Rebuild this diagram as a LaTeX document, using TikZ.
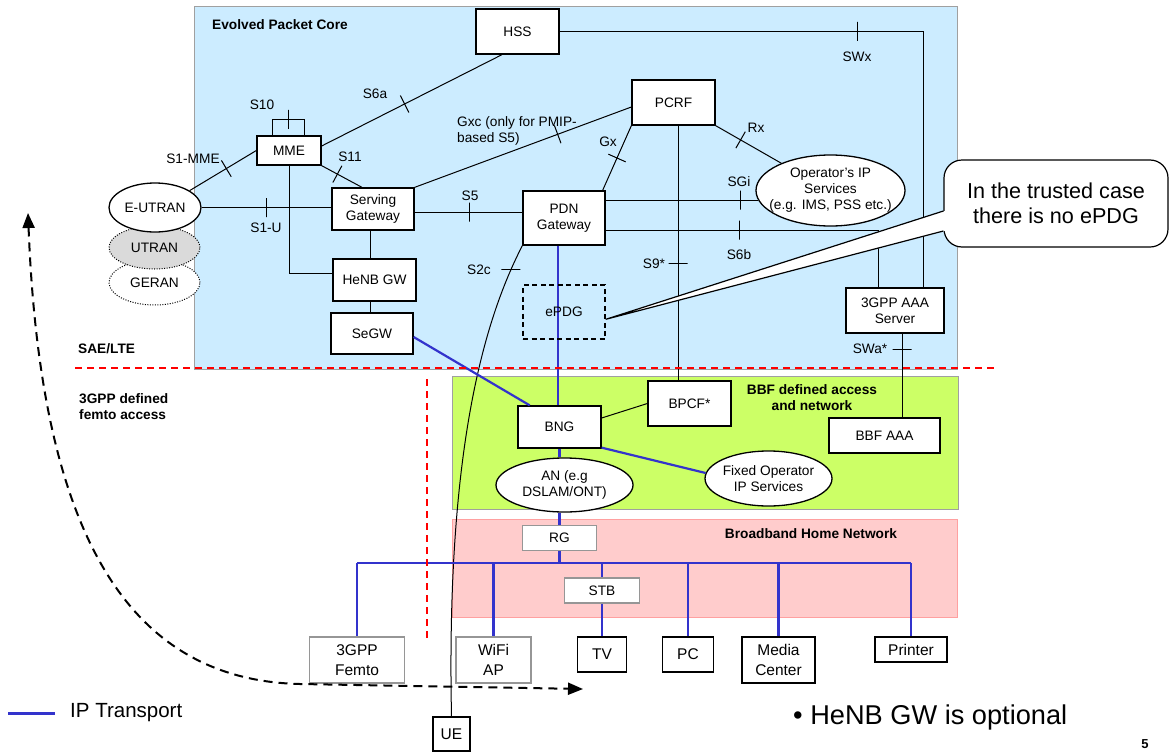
\documentclass[tikz,border=0pt]{standalone}
\usepackage{fontspec}
\setmainfont{Liberation Sans}
\usetikzlibrary{shapes.geometric,calc,arrows.meta}
\definecolor{epcblue}{RGB}{204,236,255}
\definecolor{bbfgreen}{RGB}{204,255,102}
\definecolor{homepink}{RGB}{255,204,204}
\definecolor{homeedge}{RGB}{255,160,160}
\definecolor{iplink}{RGB}{51,51,204}
\definecolor{areaedge}{RGB}{160,160,160}
\definecolor{boxgray}{RGB}{150,150,150}
\definecolor{utrangray}{RGB}{218,218,218}
\begin{document}
\begin{tikzpicture}[x=1pt,y=-1pt,
  base/.style={inner sep=0pt, align=center, font=\fontsize{13.7}{16}\selectfont},
  box/.style={base, draw, fill=white, line width=1.3pt},
  gbox/.style={box, draw=boxgray},
  bigbox/.style={box, font=\fontsize{15.5}{20}\selectfont},
  gbigbox/.style={bigbox, draw=boxgray},
  oval/.style={ellipse, draw, fill=white, line width=1.3pt, inner sep=0pt},
  dotoval/.style={oval, line width=1pt, dash pattern=on 1pt off 1.5pt},
  area/.style={base, font=\fontsize{13.7}{16}\selectfont\bfseries},
  link/.style={line width=1pt},
  ip/.style={line width=2.2pt, iplink},
  itick/.style={draw, line width=1pt, sloped, minimum width=0pt, minimum height=19pt, inner sep=0pt, outer sep=0pt},
  hbar/.style={draw, line width=1pt, minimum width=19pt, minimum height=0pt, inner sep=0pt, outer sep=0pt},
  reddash/.style={red, line width=1.5pt, dash pattern=on 7pt off 5pt},
]
\useasboundingbox (0,0) rectangle (1169,752);

% ---- domain backgrounds
\draw[fill=epcblue, draw=areaedge, line width=1pt] (194,7) rectangle (957,369);
\draw[fill=bbfgreen, draw=areaedge, line width=1pt] (452,376) rectangle (958,509);
\draw[fill=homepink, draw=homeedge, line width=1pt] (452,519) rectangle (957,617);

\node[area, anchor=west] (epclbl) at (212,25) {Evolved Packet Core};
\node[area, anchor=west] (saelbl) at (78,349) {SAE/LTE};
\node[area, anchor=west, align=left] (femtolbl) at (79,407) {3GPP defined\\femto access};
\node[area] (bbflbl) at (812,398) {BBF defined access\\and network};
\node[area] (bhnlbl) at (811,534) {Broadband Home Network};

% ---- radio access ellipses
\node[dotoval, minimum width=91pt, minimum height=45pt] (geran) at (154.5,282.5) {};
\node[dotoval, fill=utrangray, minimum width=91pt, minimum height=43pt] (utran) at (154.5,247.5) {};
\node[oval, minimum width=92pt, minimum height=49pt] (eutran) at (155,207.5) {};
\node[base] (gerantxt) at (geran) {GERAN};
\node[base] (utrantxt) at (utran) {UTRAN};
\node[base] (eutrantxt) at (eutran) {E-UTRAN};

% ---- core nodes
\node[box, minimum width=83pt, minimum height=45pt] (hss) at (517.5,31.5) {HSS};
\node[box, minimum width=64pt, minimum height=29pt] (mme) at (289,150.5) {MME};
\node[box, minimum width=82pt, minimum height=42pt] (sgw) at (373,209) {Serving\\Gateway};
\node[box, minimum width=82pt, minimum height=54pt] (pdn) at (564,218) {PDN\\Gateway};
\node[box, minimum width=83pt, minimum height=45pt] (pcrf) at (673.5,102.5) {PCRF};
\node[box, minimum width=98pt, minimum height=45pt] (aaa3gpp) at (895,310.5) {3GPP AAA\\Server};
\node[box, minimum width=83pt, minimum height=42pt] (henb) at (374.5,280) {HeNB GW};
\node[box, minimum width=82pt, minimum height=41pt] (segw) at (372,333.5) {SeGW};
\node[oval, minimum width=149pt, minimum height=71pt] (opip) at (830.5,190.5) {};

% ---- BBF access nodes
\node[box, minimum width=83pt, minimum height=42pt] (bng) at (559.5,427) {BNG};
\node[box, minimum width=83pt, minimum height=45pt] (bpcf) at (689.5,403.5) {BPCF*};
\node[box, minimum width=111pt, minimum height=35pt] (bbfaaa) at (884.5,435.5) {BBF AAA};
\node[oval, minimum width=127pt, minimum height=55pt] (fixop) at (768.5,478.5) {};
\node[oval, minimum width=137pt, minimum height=54pt] (an) at (564.5,485) {};

% ---- home network nodes
\node[gbox, minimum width=74pt, minimum height=25pt] (rg) at (559.5,538) {RG};
\node[gbox, minimum width=75pt, minimum height=25pt] (stb) at (602,590.5) {STB};
\node[gbigbox, minimum width=95pt, minimum height=46pt] (femto) at (357,660) {3GPP\\Femto};
\node[gbigbox, minimum width=75pt, minimum height=46pt] (wifi) at (493.5,660) {WiFi\\AP};
\node[bigbox, minimum width=49pt, minimum height=35pt] (tv) at (602,654.5) {TV};
\node[bigbox, minimum width=51pt, minimum height=35pt] (pc) at (688,654.5) {PC};
\node[bigbox, minimum width=73pt, minimum height=46pt] (media) at (778.5,660) {Media\\Center};
\node[bigbox, minimum width=72pt, minimum height=25pt] (printer) at (911,649.5) {Printer};
\node[bigbox, minimum width=37pt, minimum height=34pt] (ue) at (451.5,734) {UE};

% ---- reference points (black)
\draw[link] (eutran.26) -- node[itick, pos=0.55] (tk1) {} (mme.west);
\node[base] (l_s1mme) at (193,159) {S1-MME};
\draw[link] (eutran.east) -- node[itick, pos=0.5] (tk2) {} (eutran.east -| sgw.west);
\node[base] (l_s1u) at (266,228) {S1-U};
\draw[link] ($(mme.north west)+(16,0)$) -- ++(0,-16) -- node[itick, midway] (tk3) {} ++(32,0) -- ++(0,16);
\node[base] (l_s10) at (262,105) {S10};
\draw[link] ($(mme.east)+(0,-4.5)$) -- node[itick, pos=0.46] (tk4) {} ($(hss.south)+(-15.5,0)$);
\node[base] (l_s6a) at (375,94) {S6a};
\draw[link] (mme.south east) -- node[itick, pos=0.39] (tk5) {} ($(sgw.north)+(-11,0)$);
\node[base] (l_s11) at (350,157) {S11};
\coordinate (henbw) at ($(henb.west)+(0,-7)$);
\draw[link] (mme.south) -- (mme.south |- henbw) -- (henbw);
\coordinate (sgwdrop) at ($(sgw.south)+(-3,0)$);
\draw[link] (sgwdrop) -- (sgwdrop |- henb.north);
\draw[link] (sgwdrop |- henb.south) -- (sgwdrop |- segw.north);
\coordinate (s5s) at ($(sgw.east)+(0,3)$);
\draw[link] (s5s) -- node[itick, pos=0.51] (tk6) {} (s5s -| pdn.west);
\node[base] (l_s5) at (470,196) {S5};
\draw[link] (sgw.north east) -- node[itick, pos=0.66] (tk7) {} ($(pcrf.west)+(0,4.5)$);
\node[base, anchor=west, align=left] (l_gxc) at (457,131) {Gxc (only for PMIP-\\based S5)};
\draw[link] (pcrf.south west) -- node[itick, pos=0.5] (tk8) {} ($(pdn.north east)+(-3,0)$);
\node[base] (l_gx) at (608,142) {Gx};
\draw[link] (pcrf.south east) -- node[itick, pos=0.38] (tk9) {} (opip.151);
\node[base] (l_rx) at (756,128) {Rx};
\coordinate (sgis) at ($(pdn.east)+(0,-18)$);
\draw[link] (sgis) -- node[itick, pos=0.88] (tk10) {} ($(sgis -| opip.west)+(3,0)$);
\node[base] (l_sgi) at (739,182) {SGi};
\coordinate (s6bs) at ($(pdn.east)+(0,12)$);
\coordinate (s6bc) at ($(aaa3gpp.north)+(-17,0)$);
\draw[link] (s6bs) -- node[itick, pos=0.49] (tk11) {} (s6bs -| s6bc) -- (s6bc);
\node[base] (l_s6b) at (739,255) {S6b};
\coordinate (swxc) at ($(aaa3gpp.north)+(28,0)$);
\draw[link] (hss.east) -- node[itick, pos=0.82] (tk12) {} (hss.east -| swxc) -- (swxc);
\node[base] (l_swx) at (857,57) {SWx};
\coordinate (s9s) at ($(pcrf.south)+(4.5,0)$);
\draw[link] (s9s) -- node[itick, pos=0.54] (tk13) {} (s9s |- bpcf.north);
\node[base] (l_s9) at (654,264) {S9*};
\coordinate (swas) at ($(aaa3gpp.south)+(7,0)$);
\draw[link] (swas) -- node[itick, pos=0.19] (tk14) {} (swas |- bbfaaa.north);
\node[base] (l_swa) at (870,349) {SWa*};
\draw[link] ($(bng.east)+(0,-9)$) -- (bpcf.west);
\draw[link] ($(bng.east)+(0,11)$) -- ($(bng.east)+(0,11)$ -| bbfaaa.west);
\draw[link] (pdn.south west) .. controls (484,320) and (446,450) .. node[hbar, pos=0.1] (tk15) {} (ue.north);
\node[base] (l_s2c) at (479,270) {S2c};

% ---- IP transport (blue)
\draw[ip] ($(segw.east)+(0,3.5)$) -- (bng.144);
\coordinate (pdnip) at ($(pdn.south)+(-6,0)$);
\draw[ip] (pdnip) -- (pdnip |- bng.north);
\draw[ip] (bng.south) -- (bng.south |- an.north);
\draw[ip] ($(bng.south east)+(0,-1)$) -- (fixop.175);
\draw[ip] (bng.south |- an.south) -- (rg.north);
\coordinate (bus) at (559.5,563);
\draw[ip] (rg.south) -- (bus);
\draw[ip] (femto.north |- bus) -- (printer.north |- bus);
\draw[ip] (femto.north |- bus) -- (femto.north);
\draw[ip] (wifi.north |- bus) -- (wifi.north);
\draw[ip] (stb.north |- bus) -- (stb.north);
\draw[ip] (stb.south) -- (tv.north);
\draw[ip] (pc.north |- bus) -- (pc.north);
\draw[ip] (media.north |- bus) -- (media.north);
\draw[ip] (printer.north |- bus) -- (printer.north);

% ---- ePDG (optional) and oval texts
\node[base, draw, line width=1.3pt, dash pattern=on 5pt off 3.5pt, minimum width=82pt, minimum height=54pt] (epdg) at (564,312) {ePDG};
\node[base] (opiptxt) at (opip) {Operator's IP\\Services\\(e.g. IMS, PSS etc.)};
\node[base] (fixoptxt) at (fixop) {Fixed Operator\\IP Services};
\node[base] (antxt) at (an) {AN (e.g\\DSLAM/ONT)};

% ---- domain borders (red dashed)
\coordinate (rh1) at (75,368);
\coordinate (rh2) at (998,368);
\coordinate (rv1) at (427,379);
\coordinate (rv2) at (427,640);
\draw[reddash] (rh1) -- (rh2);
\draw[reddash] (rv1) -- (rv2);

% ---- mobility arrow
\coordinate (mobtop) at (28,213);
\coordinate (mobend) at (583,689);
\draw[line width=2pt, dash pattern=on 9pt off 6pt, {Triangle[length=15pt,width=12pt]}-{Triangle[length=15pt,width=12pt]}]
  (mobtop) .. controls (40,520) and (120,680) .. (300,684) -- (mobend);

% ---- callout
\node[draw, fill=white, rounded corners=18pt, line width=1.2pt, minimum width=224pt, minimum height=87pt,
      inner sep=0pt, align=center, font=\fontsize{21.6}{25}\selectfont] (note) at (1056,203.5)
      {In the trusted case\\there is no ePDG};
\fill[white] ($(note.west)+(1.5,7.5)$) -- (epdg.-10) -- ($(note.west)+(1.5,27.5)$) -- cycle;
\draw[line width=1.2pt] ($(note.west)+(0,7.5)$) -- (epdg.-10) -- ($(note.west)+(0,27.5)$);

% ---- legend and footnotes
\coordinate (legA) at (8,713);
\coordinate (legB) at (55,713);
\draw[iplink, line width=3pt] (legA) -- (legB);
\node[anchor=west, inner sep=0pt, font=\fontsize{20.5}{24}\selectfont] (legtxt) at (70,713) {IP Transport};
\node[anchor=west, inner sep=0pt, font=\fontsize{27.2}{31}\selectfont] (optnote) at (793,717) {• HeNB GW is optional};
\node[inner sep=0pt, font=\fontsize{13}{15}\selectfont\bfseries] (pageno) at (1145,744) {5};
\end{tikzpicture}
\end{document}
